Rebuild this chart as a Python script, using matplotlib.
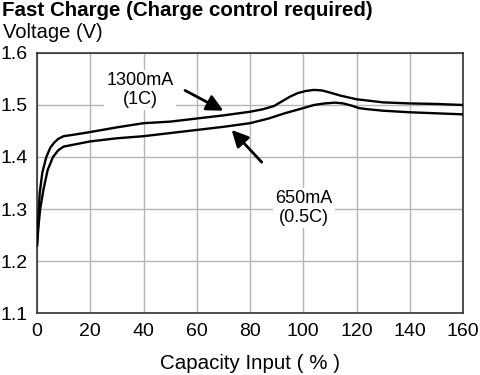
import matplotlib.pyplot as plt

plt.rcParams['font.family'] = ['Liberation Sans', 'DejaVu Sans']

# Data
cap_1c = [0, 0.5, 1, 2, 3.5, 5, 6.5, 8, 10, 14, 20, 30, 40, 50, 60, 70, 80, 85,
          89, 92, 95, 98, 101, 104, 107, 110, 114, 120, 130, 140, 150, 160]
volt_1c = [1.23, 1.28, 1.33, 1.37, 1.40, 1.418, 1.428, 1.435, 1.44, 1.443, 1.448,
           1.457, 1.465, 1.468, 1.474, 1.480, 1.487, 1.492, 1.498, 1.507, 1.516,
           1.523, 1.527, 1.529, 1.528, 1.524, 1.518, 1.511, 1.505, 1.503, 1.502, 1.500]

cap_05c = [0, 0.6, 1.2, 2.4, 4, 6, 8, 10, 14, 20, 30, 40, 50, 60, 70, 80, 87, 93,
           100, 104, 108, 112, 115, 118, 121, 124, 130, 140, 150, 160]
volt_05c = [1.23, 1.27, 1.30, 1.337, 1.375, 1.40, 1.413, 1.42, 1.424, 1.43, 1.436,
            1.44, 1.446, 1.452, 1.458, 1.465, 1.474, 1.484, 1.494, 1.500, 1.503,
            1.5045, 1.503, 1.499, 1.494, 1.492, 1.489, 1.486, 1.484, 1.482]

x_ticks = [0, 20, 40, 60, 80, 100, 120, 140, 160]
y_ticks = [1.1, 1.2, 1.3, 1.4, 1.5, 1.6]

fig = plt.figure(figsize=(4.8, 3.75), dpi=100)
ax = fig.add_axes([0.0771, 0.1653, 0.8875, 0.6934])

ax.plot(cap_1c, volt_1c, color='black', lw=1.7, zorder=3)
ax.plot(cap_05c, volt_05c, color='black', lw=1.7, zorder=3)

ax.set_xlim(0, 160)
ax.set_ylim(1.1, 1.6)
ax.set_xticks(x_ticks)
ax.set_yticks(y_ticks)
ax.set_yticklabels([f'{v:.1f}' for v in y_ticks])
ax.tick_params(length=0, labelsize=14)
ax.tick_params(axis='y', pad=7)
ax.tick_params(axis='x', pad=7)
ax.grid(True, color='#b5b5b5', lw=1.0)
for s in ax.spines.values():
    s.set_color('#333333')
    s.set_linewidth(1.2)

# labels with white boxes over the grid
ax.text(38.7, 1.529, '1300mA\n(1C)', ha='center', va='center', fontsize=13,
        linespacing=1.1, bbox=dict(facecolor='white', edgecolor='none', pad=2), zorder=2)
ax.text(100.3, 1.302, '650mA\n(0.5C)', ha='center', va='center', fontsize=13,
        linespacing=1.1, bbox=dict(facecolor='white', edgecolor='none', pad=2), zorder=2)

arrow = dict(arrowstyle='-|>', color='black', lw=2, mutation_scale=25, shrinkA=0, shrinkB=0)
ax.annotate('', xy=(70.0, 1.489), xytext=(55.6, 1.528), arrowprops=arrow, zorder=4)
ax.annotate('', xy=(73.1, 1.452), xytext=(84.4, 1.390), arrowprops=arrow, zorder=4)

ax.set_xlabel('Capacity Input ( % )', fontsize=14.8, labelpad=10)

fig.text(0.004, 0.973, 'Fast Charge (Charge control required)', fontsize=14.8,
         fontweight='bold', va='center', ha='left')
fig.text(0.006, 0.912, 'Voltage (V)', fontsize=14.5, va='center', ha='left')

fig.savefig('out.png', dpi=100)
